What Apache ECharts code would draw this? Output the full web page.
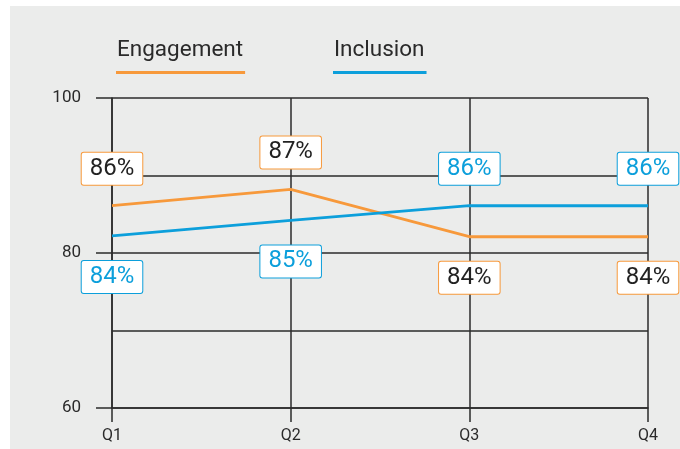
<!DOCTYPE html>
<html>
<head>
<meta charset="utf-8">
<script src="https://cdn.jsdelivr.net/npm/echarts@6/dist/echarts.min.js"></script>
<style>
    html, body { margin: 0; padding: 0; background: #fff; }
    .chart-box { position: relative; width: 680px; height: 449px; overflow: hidden; }
    .chart-box-bg { position: absolute; left: 10px; top: 6px; right: 0; bottom: 0; background: #ebeceb; }
    .chart-box-echarts { position: absolute; left: 0; top: 0; width: 680px; height: 449px; }
</style>
</head>
<body>
<div class="chart-box">
    <div class="chart-box-bg"></div>
    <div id="echart" class="chart-box-echarts"></div>
</div>
<script>
const xLabel = ['Q1', 'Q2', 'Q3', 'Q4']
const seriesNames = ['Engagement', 'Inclusion']
const seriesColors = ['#f7993b', '#0c9fdb']
const labelColors = ['#222222', '#0c9fdb']
// plotted line values
const engagementData = [86.1, 88.2, 82.1, 82.1]
const inclusionData = [82.2, 84.2, 86.1, 86.1]
// values printed in the boxes
const engagementLabels = [86, 87, 84, 84]
const inclusionLabels = [84, 85, 86, 86]
const yTicks = [60, 80, 100]

const fontFamily = 'Roboto, "Noto Sans", sans-serif'
const chart = echarts.init(document.getElementById('echart'), null, { renderer: 'canvas' })

const allData = [engagementData, inclusionData]
const allLabels = [engagementLabels, inclusionLabels]

// legend: text with a coloured underline
const measure = document.createElement('canvas').getContext('2d')
measure.font = '22.5px ' + fontFamily
const legendX = [117, 334]
const legendGraphic = []
seriesNames.forEach((name, i) => {
    const w = measure.measureText(name).width
    legendGraphic.push({
        type: 'text',
        left: legendX[i],
        top: 39,
        style: { text: name, fill: '#2a2a2a', font: '22.5px ' + fontFamily },
    })
    legendGraphic.push({
        type: 'rect',
        left: legendX[i] - 1,
        top: 71,
        shape: { width: w + 3, height: 3 },
        style: { fill: seriesColors[i] },
    })
})

const buildSeries = (idx) => {
    const other = allData[1 - idx]
    return {
        name: seriesNames[idx],
        type: 'line',
        symbol: 'circle',
        showSymbol: true,
        symbolSize: 0,
        lineStyle: { width: 2.8, color: seriesColors[idx] },
        itemStyle: { color: seriesColors[idx] },
        z: 3,
        data: allData[idx].map((v, j) => {
            const above = v >= other[j]
            return {
                value: v,
                label: {
                    show: true,
                    position: above ? 'top' : 'bottom',
                    distance: above ? 21 : 25,
                    formatter: allLabels[idx][j] + '%',
                    color: labelColors[idx],
                    fontSize: 24,
                    lineHeight: 24,
                    fontFamily: fontFamily,
                    backgroundColor: '#ffffff',
                    borderColor: seriesColors[idx],
                    borderWidth: 1,
                    borderRadius: 2,
                    padding: [4, 8],
                },
            }
        }),
    }
}

chart.setOption({
    backgroundColor: 'transparent',
    animation: false,
    graphic: legendGraphic,
    grid: {
        left: 112,
        right: 32,
        top: 98,
        bottom: 41,
    },
    xAxis: {
        type: 'category',
        boundaryGap: false,
        data: xLabel,
        axisLine: { show: true, lineStyle: { color: '#2b2b2b', width: 1.5 } },
        axisTick: { show: true, length: 14, lineStyle: { color: '#2b2b2b', width: 1.5 } },
        axisLabel: { margin: 20, color: '#2a2a2a', fontSize: 16, fontFamily: fontFamily },
        splitLine: { show: true, lineStyle: { color: '#2b2b2b', width: 1.5 } },
    },
    yAxis: {
        type: 'value',
        min: yTicks[0],
        max: yTicks[yTicks.length - 1],
        interval: yTicks[1] - yTicks[0],
        axisLine: { show: true, lineStyle: { color: '#2b2b2b', width: 1.5 } },
        axisTick: { show: true, length: 16, lineStyle: { color: '#2b2b2b', width: 1.5 } },
        axisLabel: { margin: 31, color: '#2a2a2a', fontSize: 17, fontFamily: fontFamily },
        splitLine: { show: true, lineStyle: { color: '#2b2b2b', width: 1.5 } },
        minorTick: { show: false, splitNumber: 2 },
        minorSplitLine: { show: true, lineStyle: { color: '#2b2b2b', width: 1.5 } },
    },
    series: [buildSeries(0), buildSeries(1)],
})
</script>
</body>
</html>
